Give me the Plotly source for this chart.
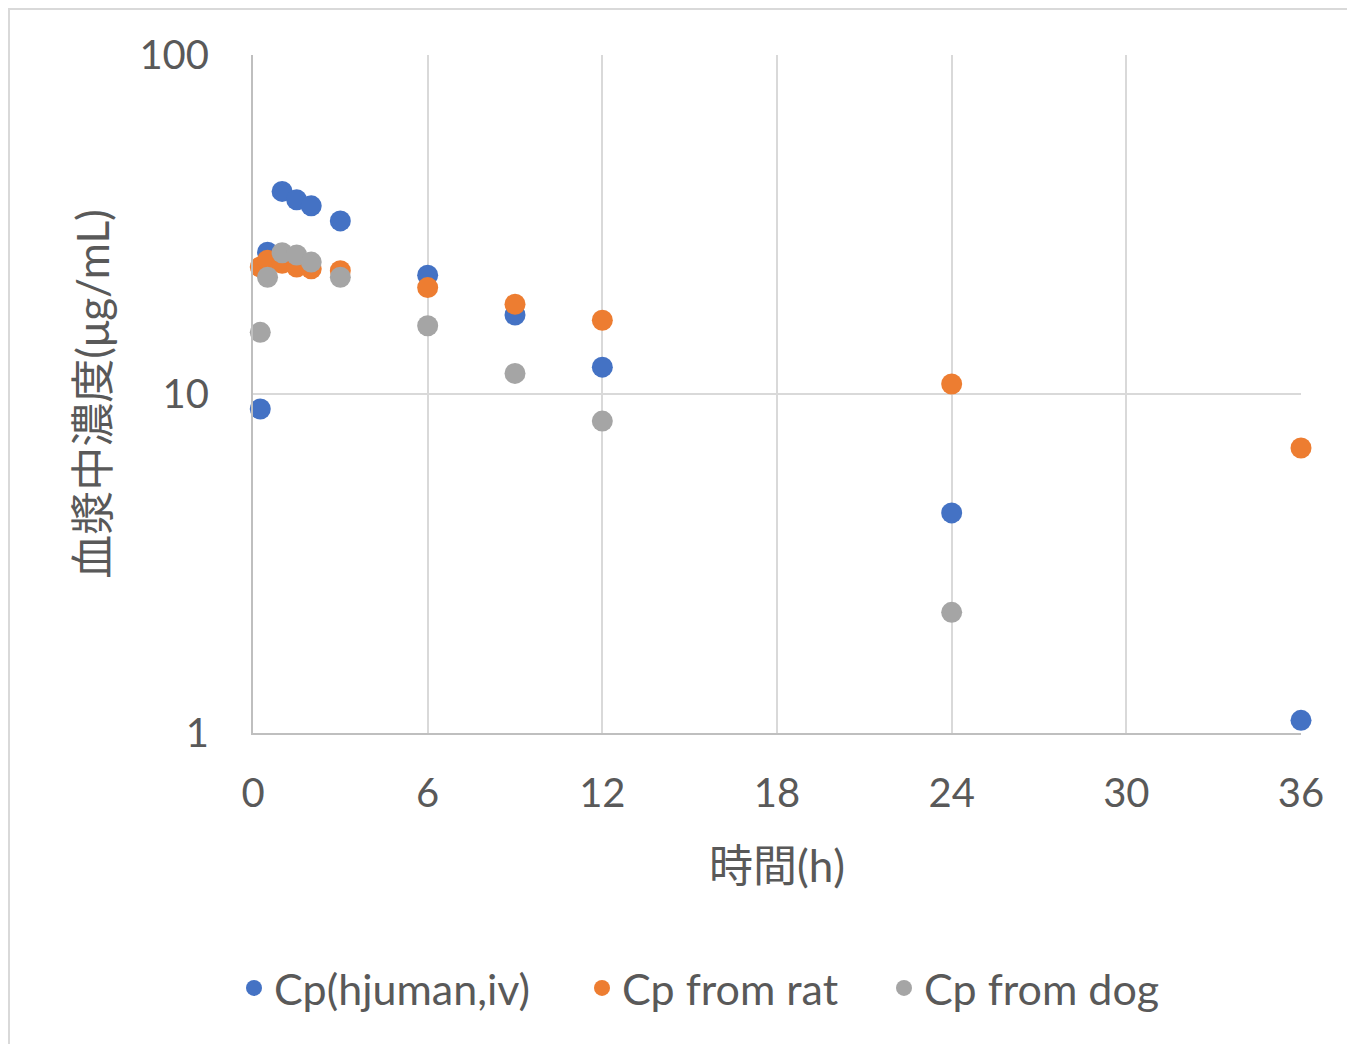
import plotly.graph_objects as go

time_h = [0.25, 0.5, 1, 1.5, 2, 3, 6, 9, 12, 24, 36]
cp_human = [9.03, 26.2, 39.6, 37.4, 35.9, 32.4, 22.4, 17.1, 12.0, 4.46, 1.09]
cp_rat = [23.7, 24.8, 24.3, 23.7, 23.4, 23.1, 20.6, 18.4, 16.5, 10.7, 6.93]
time_dog = [0.25, 0.5, 1, 1.5, 2, 3, 6, 9, 12, 24]
cp_dog = [15.2, 22.1, 26.1, 25.7, 24.5, 22.1, 15.9, 11.5, 8.32, 2.27]

names = ["Cp(hjuman,iv)", "Cp from rat", "Cp from dog"]
colors = ["#4472C4", "#ED7D31", "#A5A5A5"]
x_ticks = [0, 6, 12, 18, 24, 30, 36]
y_ticks = [1, 10, 100]

FONT = "Lato, Noto Sans CJK JP, sans-serif"
TXT = "#595959"

# plot area in pixels
L, R, T, B = 253, 1301, 55, 733
def px(x):
    return (x - L) / (R - L)
def py(y):
    return (B - y) / (B - T)

fig = go.Figure()
legend_ids = ["legend", "legend2", "legend3"]
for xs, ys, nm, c, lg in [(time_h, cp_human, names[0], colors[0], legend_ids[0]),
                          (time_h, cp_rat, names[1], colors[1], legend_ids[1]),
                          (time_dog, cp_dog, names[2], colors[2], legend_ids[2])]:
    fig.add_trace(go.Scatter(x=xs, y=ys, mode="markers", name=nm, legend=lg,
                             marker=dict(color=c, size=21, line=dict(width=0)),
                             cliponaxis=False))

leg_common = dict(orientation="h", yanchor="middle", y=py(988), xanchor="left",
                  font=dict(size=43, color=TXT, family=FONT), bgcolor="rgba(0,0,0,0)",
                  borderwidth=0)

fig.update_layout(
    width=1347, height=1044,
    margin=dict(l=L, r=1347 - R, t=T, b=1044 - B),
    paper_bgcolor="white", plot_bgcolor="white",
    font=dict(family=FONT, color=TXT, size=40),
    showlegend=True,
    legend=dict(x=px(234), **leg_common),
    legend2=dict(x=px(582), **leg_common),
    legend3=dict(x=px(884), **leg_common),
    xaxis=dict(range=[0, 36], tickvals=x_ticks, ticktext=[str(v) for v in x_ticks],
               showgrid=True, gridcolor="#D9D9D9", gridwidth=2,
               zeroline=False, showline=True, linecolor="#BFBFBF", linewidth=2,
               ticks="", ticklabelstandoff=24,
               tickfont=dict(size=40, color=TXT),
               title=dict(text="時間(h)", font=dict(size=44, color=TXT), standoff=36)),
    yaxis=dict(type="log", range=[0, 2], tickvals=y_ticks, ticktext=[str(v) for v in y_ticks],
               showgrid=True, gridcolor="#D9D9D9", gridwidth=2,
               zeroline=False, showline=True, linecolor="#BFBFBF", linewidth=2,
               ticks="", ticklabelstandoff=34,
               tickfont=dict(size=40, color=TXT),
               title=dict(text="血漿中濃度(μg/mL)", font=dict(size=44, color=TXT), standoff=16)),
    shapes=[dict(type="rect", xref="paper", yref="paper",
                 x0=px(9), x1=1.2, y0=-0.6, y1=py(9),
                 line=dict(color="#D9D9D9", width=2), fillcolor="rgba(0,0,0,0)", layer="below")],
)

fig.write_html("out.html")
